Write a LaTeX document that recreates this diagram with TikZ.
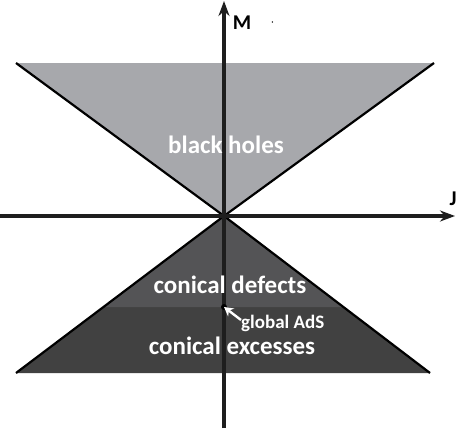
\documentclass[tikz,border=0pt]{standalone}
\usepackage{fontspec}
\setmainfont{Carlito}
\usetikzlibrary{positioning,arrows.meta,calc}
\definecolor{bhgray}{HTML}{A7A8AC}
\definecolor{defgray}{HTML}{545456}
\definecolor{excgray}{HTML}{414141}
\definecolor{axisink}{HTML}{1E1E1E}
\tikzset{
    region/.style={white,font=\bfseries\fontsize{25}{28}\selectfont},
    axis/.style={draw=axisink,line width=3.4pt,-{Stealth[length=15pt,width=11pt]}},
    coneline/.style={draw=black,line width=2.2pt},
    axlabel/.style={font=\bfseries\fontsize{21}{23}\selectfont,inner sep=0pt},
    pointer/.style={draw=white,line width=2.4pt,-{Stealth[length=9pt,width=10pt]}}
}

\begin{document}
\begin{tikzpicture}[x=1pt,y=-1pt]
\useasboundingbox (0,0) rectangle (457,428);
\coordinate (o) at (224,216);
\coordinate (tl) at (16,63);
\coordinate (tr) at (434,63);
\coordinate (bl) at (16,373);
\coordinate (br) at (430,373);
\coordinate (ml) at ($(o)!0.58!(bl)$);
\coordinate (mr) at ($(o)!0.58!(br)$);
\coordinate (ads) at (224,307);

% regions
\fill[bhgray] (tl) -- (tr) -- (o) -- cycle;
\fill[excgray] (o) -- (bl) -- (br) -- cycle;
\fill[defgray] (o) -- (ml |- ads) -- (mr |- ads) -- cycle;
\draw[coneline] (tl) -- (o) -- (tr);
\draw[coneline] (bl) -- (o) -- (br);

% axes
\coordinate (ybot) at (224,428);
\coordinate (ytop) at (224,1);
\coordinate (xl) at (0,216);
\coordinate (xr) at (455,216);
\draw[axis] (ybot) -- (ytop);
\draw[axis] (xl) -- (xr);
\node[axlabel] (mlab) at (242,23) {M};
\fill[black] ($(mlab.east)+(21,-1)$) circle (0.8pt);
\node[axlabel] (jlab) at (453,199) {J};

% labels
\node[region] (bh) at (226,145) {black holes};
\node[region] (cd) at (230,285) {conical defects};
\node[region] (ce) at (232,346) {conical excesses};
\node[white,font=\bfseries\fontsize{19}{21}\selectfont,anchor=west,inner sep=0pt] (gads) at (241,323) {global AdS};
\fill[black] (ads) circle (3pt);
\draw[pointer] (gads.west) ++(0,-3) -- (ads);
\end{tikzpicture}
\end{document}
